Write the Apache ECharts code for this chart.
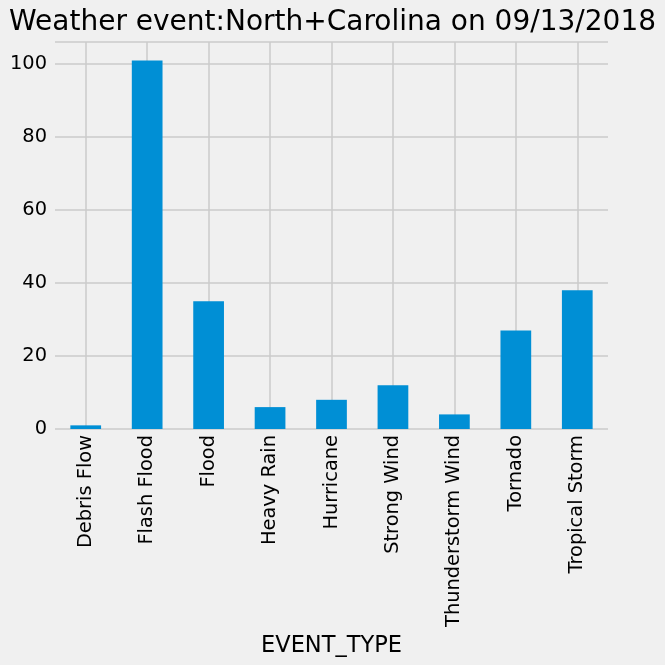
<!DOCTYPE html>
<html>
<head>
<meta charset="utf-8">
<script src="https://cdn.jsdelivr.net/npm/echarts@6/dist/echarts.min.js"></script>
<style>
html,body{margin:0;padding:0;background:#f0f0f0;}
#c{width:665px;height:665px;}
</style>
</head>
<body>
<div id="c"></div>
<script>
var categories = ['Debris Flow','Flash Flood','Flood','Heavy Rain','Hurricane','Strong Wind','Thunderstorm Wind','Tornado','Tropical Storm'];
var counts = [1,101,35,6,8,12,4,27,38];
var yTicks = [0,20,40,60,80,100];
var titleText = 'Weather event:North+Carolina on 09/13/2018';
var xName = 'EVENT_TYPE';

var font = 'DejaVu Sans';
var chart = echarts.init(document.getElementById('c'), null, {renderer:'canvas'});
chart.setOption({
  backgroundColor:'#f0f0f0',
  animation:false,
  title:{text:titleText,left:'center',top:4,
    textStyle:{fontFamily:font,fontSize:28,fontWeight:'normal',color:'#000'}},
  grid:{left:55,right:57,top:42,bottom:236},
  xAxis:{type:'category',data:categories,
    name:xName,nameLocation:'middle',nameGap:201,
    nameTextStyle:{fontFamily:font,fontSize:22.5,color:'#000'},
    axisLine:{show:false},axisTick:{show:false},splitLine:{show:false},
    axisLabel:{rotate:90,margin:6,fontFamily:font,fontSize:19.4,color:'#000',interval:0}},
  yAxis:{type:'value',min:0,max:106.05,interval:20,
    axisLine:{show:false},axisTick:{show:false},
    axisLabel:{fontFamily:font,fontSize:19.4,color:'#000',margin:8,
      formatter:function(v){return yTicks.indexOf(v)>=0?String(v):'';}},
    splitLine:{lineStyle:{color:'#cbcbcb',width:1.5}}},
  series:[{type:'bar',data:counts,barWidth:'50%',z:2,
    itemStyle:{color:'#008fd5'},
    markLine:{silent:true,symbol:'none',z:1,label:{show:false},
      lineStyle:{color:'#cbcbcb',width:1.5,type:'solid'},
      emphasis:{disabled:true},
      data:categories.map(function(c){return {xAxis:c};})}
  }]
});
</script>
</body>
</html>
